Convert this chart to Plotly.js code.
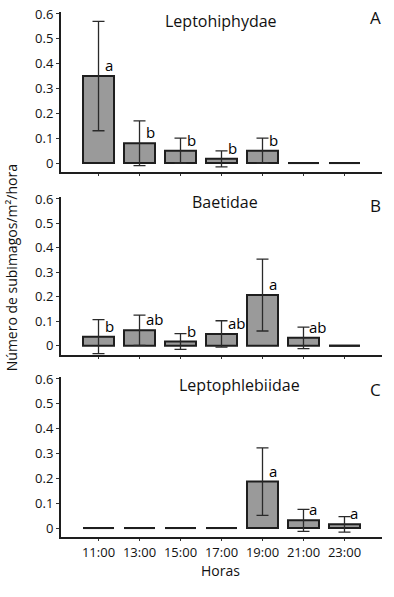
<!DOCTYPE html>
<html>
<head>
<meta charset="utf-8">
<script src="https://cdn.plot.ly/plotly-3.0.1.min.js"></script>
<style>
  html, body { margin: 0; padding: 0; background: #fff; }
  #chart { width: 394px; height: 597px; }
</style>
</head>
<body>
<div id="chart"></div>
<script>
// ---- data ----
const horas = ["11:00", "13:00", "15:00", "17:00", "19:00", "21:00", "23:00"];

const leptohiphydaeMean = [0.35, 0.08, 0.05, 0.017, 0.05, 0, 0];
const leptohiphydaeErr  = [0.22, 0.09, 0.05, 0.032, 0.05, 0, 0];
const leptohiphydaeLetters = ["a", "b", "b", "b", "b", "", ""];

const baetidaeMean = [0.037, 0.063, 0.017, 0.048, 0.207, 0.032, 0];
const baetidaeErr  = [0.07, 0.062, 0.032, 0.054, 0.147, 0.044, 0];
const baetidaeLetters = ["b", "ab", "b", "ab", "a", "ab", ""];

const leptophlebiidaeMean = [0, 0, 0, 0, 0.187, 0.031, 0.015];
const leptophlebiidaeErr  = [0, 0, 0, 0, 0.136, 0.044, 0.031];
const leptophlebiidaeLetters = ["", "", "", "", "a", "a", "a"];

const panelNames = ["Leptohiphydae", "Baetidae", "Leptophlebiidae"];
const panelLetters = ["A", "B", "C"];
const yTickVals = [0, 0.1, 0.2, 0.3, 0.4, 0.5, 0.6];
const yTickText = ["0", "0.1", "0.2", "0.3", "0.4", "0.5", "0.6"];

// ---- build ----
const FONT = "Open Sans, Noto Sans, sans-serif";
const panels = [
  {mean: leptohiphydaeMean, err: leptohiphydaeErr, letters: leptohiphydaeLetters},
  {mean: baetidaeMean, err: baetidaeErr, letters: baetidaeLetters},
  {mean: leptophlebiidaeMean, err: leptophlebiidaeErr, letters: leptophlebiidaeLetters}
];
const H = 597;
const pix = [[12, 172], [197, 354.5], [377, 537]];  // top,bottom px of each plot area
const titleX = [0.498, 0.511, 0.555];
const titleY = [0.946, 0.970, 0.950];
const letterY = [0.9625, 0.945, 0.925];

const xIdx = horas.map((h, i) => i);
const traces = [];
const annotations = [];
const layout = {
  width: 394, height: 597,
  margin: {l: 61, r: 12, t: 0, b: 0},
  paper_bgcolor: "#fff", plot_bgcolor: "#fff",
  showlegend: false,
  font: {family: FONT, color: "#111", size: 13},
  annotations: annotations
};

panels.forEach((p, k) => {
  const n = k + 1;
  const xa = n === 1 ? "x" : "x" + n;
  const ya = n === 1 ? "y" : "y" + n;
  traces.push({
    type: "bar", x: xIdx, y: p.mean, xaxis: xa, yaxis: ya,
    width: 0.756,
    marker: {color: "#9a9a9a", line: {color: "#1e1e1e", width: 2}},
    error_y: {type: "data", array: p.err, visible: true, color: "#2a2a2a", thickness: 1.3, width: 6},
    hoverinfo: "skip"
  });
  // zero-valued categories drawn as a flat line at 0
  const zx = [], zy = [];
  p.mean.forEach((v, i) => { if (v === 0) { zx.push(i); zy.push(v); } });
  traces.push({
    type: "scatter", mode: "markers", x: zx, y: zy, xaxis: xa, yaxis: ya,
    marker: {symbol: "line-ew-open", size: 22, color: "#1e1e1e", line: {color: "#1e1e1e", width: 2}},
    hoverinfo: "skip", cliponaxis: false
  });
  p.letters.forEach((t, i) => {
    if (!t) return;
    annotations.push({
      xref: xa, yref: ya, x: i, y: p.mean[i], text: t, showarrow: false,
      xanchor: "left", yanchor: "bottom", xshift: 4, yshift: -1,
      font: {family: FONT, size: 15, color: "#000"}
    });
  });
  annotations.push({
    xref: xa + " domain", yref: ya + " domain", x: titleX[k], y: titleY[k],
    text: panelNames[k], showarrow: false, xanchor: "center", yanchor: "middle",
    font: {family: FONT, size: 16, color: "#111"}
  });
  annotations.push({
    xref: xa + " domain", yref: ya + " domain", x: 0.981, y: letterY[k],
    text: panelLetters[k], showarrow: false, xanchor: "center", yanchor: "middle",
    font: {family: FONT, size: 17, color: "#111"}
  });
  const dom = [1 - pix[k][1] / H, 1 - pix[k][0] / H];
  layout["xaxis" + (n === 1 ? "" : n)] = {
    anchor: ya, domain: [0, 1], range: [-0.915, 6.915],
    tickmode: "array", tickvals: xIdx, ticktext: k === 2 ? horas : horas.map(() => ""),
    showticklabels: k === 2,
    ticks: "outside", ticklen: 2, tickcolor: "#333", tickwidth: 1,
    showline: true, linecolor: "#1e1e1e", linewidth: 2,
    showgrid: false, zeroline: false, fixedrange: true,
    tickfont: {family: FONT, size: 13, color: "#111"},
    title: {text: ""}
  };
  layout["yaxis" + (n === 1 ? "" : n)] = {
    anchor: xa, domain: dom, range: [-0.036, 0.608],
    tickmode: "array", tickvals: yTickVals, ticktext: yTickText,
    ticks: "outside", ticklen: 3, tickcolor: "#333", tickwidth: 1,
    showline: true, linecolor: "#1e1e1e", linewidth: 2,
    showgrid: false, zeroline: false, fixedrange: true,
    tickfont: {family: FONT, size: 13, color: "#111"}
  };
});

annotations.push({
  xref: "paper", yref: "paper", x: -0.155, y: 1 - 268 / H,
  text: "Número de subimagos/m²/hora", textangle: -90, showarrow: false,
  xanchor: "center", yanchor: "middle",
  font: {family: FONT, size: 14, color: "#111"}
});
annotations.push({
  xref: "x3 domain", yref: "paper", x: 0.498, y: 1 - 570 / H,
  text: "Horas", showarrow: false, xanchor: "center", yanchor: "middle",
  font: {family: FONT, size: 14, color: "#111"}
});

Plotly.newPlot("chart", traces, layout, {displayModeBar: false, staticPlot: true});
</script>
</body>
</html>
